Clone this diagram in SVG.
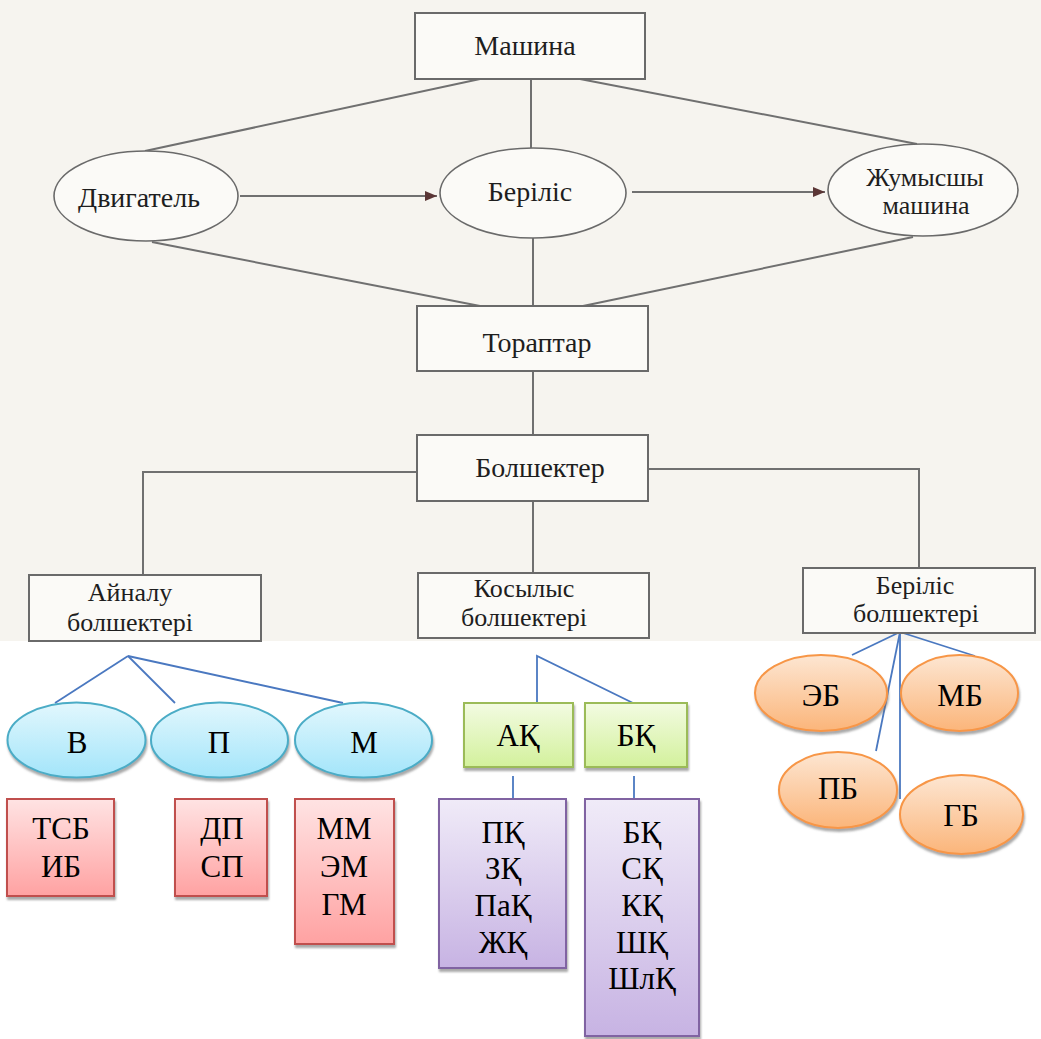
<svg xmlns="http://www.w3.org/2000/svg" width="1041" height="1039" viewBox="0 0 1041 1039">
<style>
.bx{fill:#fbfaf7;stroke:#6a6a6a;stroke-width:2}
.el{fill:#fbfaf7;stroke:#6a6a6a;stroke-width:1.6}
.ln{stroke:#707070;stroke-width:2;fill:none}
.bl{stroke:#4a78c0;stroke-width:1.8;fill:none}
text{font-family:"Liberation Serif","Times New Roman","DejaVu Serif",serif;text-anchor:middle;dominant-baseline:central}
.t{font-size:28px;fill:#1e1e1e}
.ts{font-size:26px;fill:#1e1e1e}
.t2{font-size:31px;fill:#000}
.cy{fill:url(#gCy);stroke:#4bacc6;stroke-width:2;filter:url(#sh)}
.rd{fill:url(#gRd);stroke:#c0504d;stroke-width:2;filter:url(#sh)}
.gr{fill:url(#gGr);stroke:#9bbb59;stroke-width:2;filter:url(#sh)}
.pu{fill:url(#gPu);stroke:#8064a2;stroke-width:2;filter:url(#sh)}
.or{fill:url(#gOr);stroke:#f79646;stroke-width:2;filter:url(#sh)}
</style>
<defs>
<linearGradient id="gCy" x1="0" y1="0" x2="0" y2="1"><stop offset="0" stop-color="#e2f7fd"/><stop offset="1" stop-color="#a3e5fa"/></linearGradient>
<linearGradient id="gRd" x1="0" y1="0" x2="0" y2="1"><stop offset="0" stop-color="#ffe3e3"/><stop offset="1" stop-color="#ffa2a2"/></linearGradient>
<linearGradient id="gGr" x1="0" y1="0" x2="0" y2="1"><stop offset="0" stop-color="#f3fbe2"/><stop offset="1" stop-color="#d3f19c"/></linearGradient>
<linearGradient id="gPu" x1="0" y1="0" x2="0" y2="1"><stop offset="0" stop-color="#f0ebf8"/><stop offset="1" stop-color="#c7b3e3"/></linearGradient>
<linearGradient id="gOr" x1="0" y1="0" x2="0" y2="1"><stop offset="0" stop-color="#fde6d2"/><stop offset="1" stop-color="#fbb57a"/></linearGradient>
<filter id="sh" x="-10%" y="-10%" width="125%" height="130%"><feDropShadow dx="1" dy="3" stdDeviation="1" flood-color="#707070" flood-opacity="0.6"/></filter>
<marker id="ar" viewBox="0 0 12 10" refX="12" refY="5" markerWidth="12" markerHeight="10" markerUnits="userSpaceOnUse" orient="auto"><path d="M0,0 L12,5 L0,10 Z" fill="#5a3535"/></marker>
</defs>
<rect x="0" y="0" width="1041" height="641" fill="#f6f4ef"/>
<g id="connectors">
<line class="ln" x1="480" y1="79" x2="145" y2="151"/>
<line class="ln" x1="531" y1="79" x2="531" y2="148"/>
<line class="ln" x1="580" y1="79" x2="917" y2="144"/>
<line class="ln" x1="152" y1="242" x2="480" y2="306"/>
<line class="ln" x1="533" y1="237" x2="533" y2="306"/>
<line class="ln" x1="913" y1="237" x2="583" y2="306"/>
<line class="ln" x1="240" y1="196" x2="437" y2="196" marker-end="url(#ar)"/>
<line class="ln" x1="632" y1="192" x2="825" y2="192" marker-end="url(#ar)"/>
<line class="ln" x1="533" y1="371" x2="533" y2="435"/>
<polyline class="ln" points="417,472 143,472 143,575"/>
<polyline class="ln" points="648,469 919,469 919,568"/>
<line class="ln" x1="533" y1="501" x2="533" y2="573"/>
<line class="bl" x1="128" y1="656" x2="55" y2="703"/>
<line class="bl" x1="128" y1="656" x2="175" y2="703"/>
<line class="bl" x1="128" y1="656" x2="343" y2="703"/>
<polyline class="bl" points="537,703 537,656 633,703"/>
<line class="bl" x1="513" y1="776" x2="513" y2="799"/>
<line class="bl" x1="634" y1="776" x2="634" y2="799"/>
<line class="bl" x1="900" y1="632" x2="852" y2="655"/>
<line class="bl" x1="900" y1="632" x2="975" y2="656"/>
<line class="bl" x1="900" y1="632" x2="876" y2="751"/>
<line class="bl" x1="900" y1="632" x2="900" y2="799"/>
</g>
<g id="mashina"><rect class="bx" x="415" y="13" width="230" height="66"/><text class="t" x="525" y="45">Машина</text></g>
<g id="dvigatel"><ellipse class="el" cx="146" cy="196" rx="92" ry="45"/><text class="t" x="139" y="197">Двигатель</text></g>
<g id="berilis"><ellipse class="el" cx="533" cy="193" rx="93" ry="45"/><text class="t" x="530" y="191">Беріліс</text></g>
<g id="zhumysshy"><ellipse class="el" cx="923" cy="190" rx="95" ry="46"/><text class="ts" x="925" y="177">Жумысшы</text><text class="ts" x="926" y="205">машина</text></g>
<g id="toraptar"><rect class="bx" x="417" y="306" width="231" height="65"/><text class="t" x="537" y="342">Тораптар</text></g>
<g id="bolshekter"><rect class="bx" x="417" y="435" width="231" height="66"/><text class="t" x="540" y="467">Болшектер</text></g>
<g id="ainalu"><rect class="bx" x="29" y="575" width="232" height="66"/><text class="ts" x="130" y="592">Айналу</text><text class="ts" x="130" y="622">болшектері</text></g>
<g id="kosylys"><rect class="bx" x="418" y="573" width="231" height="65"/><text class="ts" x="524" y="588">Косылыс</text><text class="ts" x="524" y="617">болшектері</text></g>
<g id="berilis-b"><rect class="bx" x="803" y="568" width="232" height="65"/><text class="ts" x="915" y="585">Беріліс</text><text class="ts" x="916" y="613">болшектері</text></g>
<g id="v"><ellipse class="cy" cx="76.5" cy="740" rx="69" ry="37.5"/><text class="t2" x="77" y="742">В</text></g>
<g id="p"><ellipse class="cy" cx="219.5" cy="740" rx="68.5" ry="37.5"/><text class="t2" x="219" y="742">П</text></g>
<g id="m"><ellipse class="cy" cx="363.5" cy="740" rx="68.5" ry="37.5"/><text class="t2" x="364" y="742">М</text></g>
<g id="tsb"><rect class="rd" x="7" y="799" width="107" height="97"/><text class="t2" x="61" y="828">ТСБ</text><text class="t2" x="61" y="866">ИБ</text></g>
<g id="dp"><rect class="rd" x="175" y="799" width="92" height="97"/><text class="t2" x="222" y="828">ДП</text><text class="t2" x="222" y="866">СП</text></g>
<g id="mm"><rect class="rd" x="295" y="799" width="99" height="145"/><text class="t2" x="344" y="828">ММ</text><text class="t2" x="344" y="866">ЭМ</text><text class="t2" x="344" y="904">ГМ</text></g>
<g id="ak"><rect class="gr" x="464" y="703" width="109" height="64"/><text class="t2" x="518" y="735">АҚ</text></g>
<g id="bk"><rect class="gr" x="585" y="703" width="102" height="64"/><text class="t2" x="636" y="735">БҚ</text></g>
<g id="ak-list"><rect class="pu" x="439" y="799" width="127" height="169"/><text class="t2" x="503" y="832">ПҚ</text><text class="t2" x="503" y="868">ЗҚ</text><text class="t2" x="503" y="905">ПаҚ</text><text class="t2" x="503" y="942">ЖҚ</text></g>
<g id="bk-list"><rect class="pu" x="585" y="799" width="114" height="237"/><text class="t2" x="642" y="832">БҚ</text><text class="t2" x="642" y="868">СҚ</text><text class="t2" x="642" y="905">КҚ</text><text class="t2" x="642" y="942">ШҚ</text><text class="t2" x="642" y="978">ШлҚ</text></g>
<g id="eb"><ellipse class="or" cx="821" cy="693" rx="66" ry="38"/><text class="t2" x="821" y="695">ЭБ</text></g>
<g id="mb"><ellipse class="or" cx="959.5" cy="693" rx="58.5" ry="38"/><text class="t2" x="960" y="695">МБ</text></g>
<g id="pb"><ellipse class="or" cx="838" cy="790" rx="59" ry="38"/><text class="t2" x="838" y="788">ПБ</text></g>
<g id="gb"><ellipse class="or" cx="961.5" cy="814.5" rx="61.5" ry="39.5"/><text class="t2" x="961" y="815">ГБ</text></g>
</svg>
